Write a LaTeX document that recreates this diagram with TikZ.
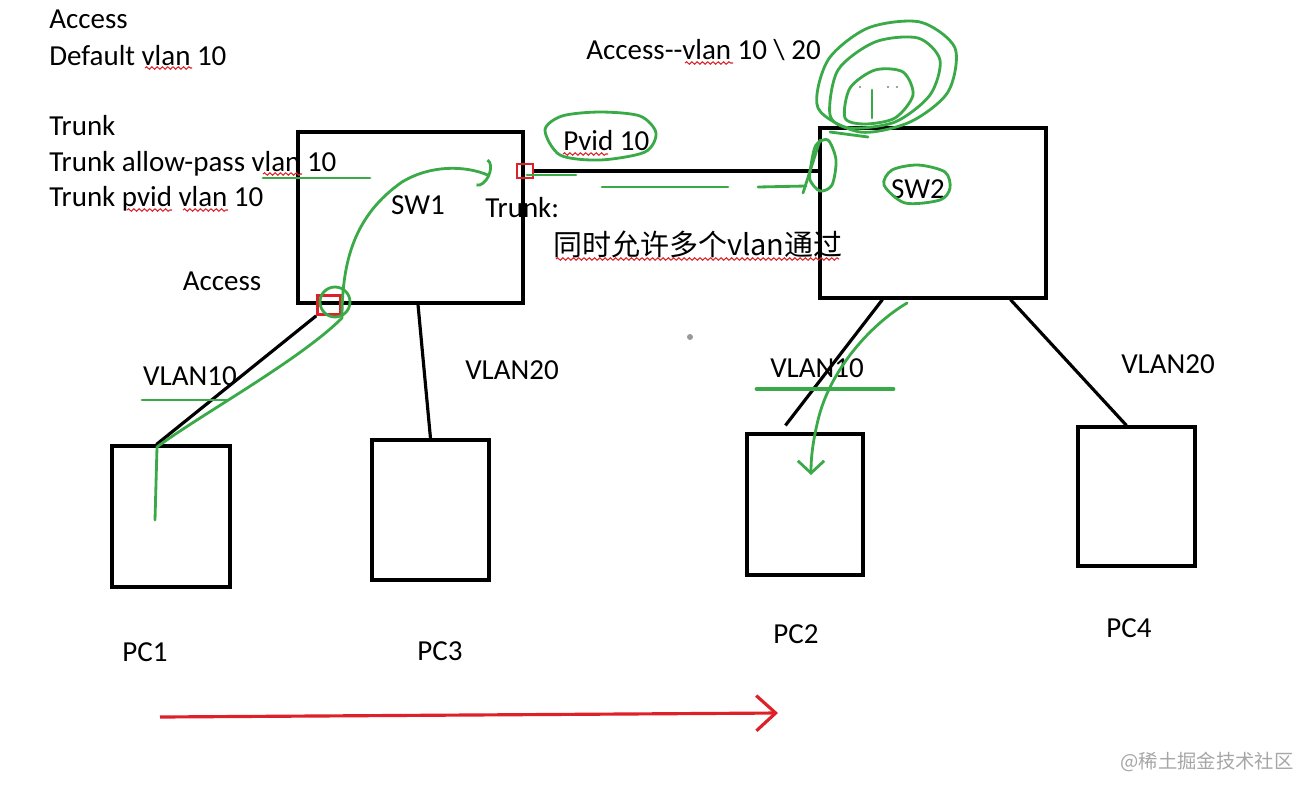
\documentclass[tikz,border=0pt]{standalone}
\usepackage{fontspec}
\setmainfont{Carlito}
\newfontfamily\cjk{Noto Sans CJK SC}
\usetikzlibrary{calc, arrows.meta, decorations.pathmorphing}
\definecolor{pen}{RGB}{58,170,72}
\definecolor{redpen}{RGB}{222,32,40}

\begin{document}
\begin{tikzpicture}[
          x=0.02cm, y=-0.02cm,
          box/.style={rectangle, draw=black, line width=1.8pt, inner sep=0pt},
          link/.style={black, line width=1.8pt},
          lbl/.style={font=\fontsize{16.5}{20}\selectfont, inner sep=0pt, anchor=base},
          note/.style={lbl, anchor=base west},
          port/.style={rectangle, draw=redpen, line width=1.5pt, inner sep=0pt},
          ink/.style={pen, line width=1.6pt, line cap=round, line join=round},
          squig/.style={redpen, line width=0.6pt, decorate,
                        decoration={snake, segment length=3pt, amplitude=0.7pt}}
        ]
          \useasboundingbox (0,0) rectangle (1310,795);

          % switches and hosts
          \node[box, minimum width=4.50cm, minimum height=3.42cm] (sw1) at (410.5,217.5) {};
          \node[box, minimum width=4.52cm, minimum height=3.40cm] (sw2) at (933,213) {};
          \node[box, minimum width=2.36cm, minimum height=2.82cm] (pc1) at (171,516.5) {};
          \node[box, minimum width=2.34cm, minimum height=2.80cm] (pc3) at (430.5,510) {};
          \node[box, minimum width=2.32cm, minimum height=2.82cm] (pc2) at (805,504.5) {};
          \node[box, minimum width=2.34cm, minimum height=2.78cm] (pc4) at (1136.5,496.5) {};

          \node[port, minimum width=0.46cm, minimum height=0.38cm] (p1) at (329,305) {};
          \node[port, minimum width=0.32cm, minimum height=0.28cm] (p2) at (525,171) {};

          \draw[link] (p1.south west) -- ($(pc1.north west)+(46,0)$);
          \draw[link] ($(sw1.south)+(7.5,0)$) -- (pc3.north);
          \draw[link] (p2.east) -- ($(sw2.west)+(0,-42)$);
          \draw[link] ($(sw2.south west)+(64,0)$) -- ($(pc2.north west)+(40,-7)$);
          \draw[link] ($(sw2.south west)+(192,0)$) -- ($(pc4.north west)+(50,0)$);

          % labels
          \node[note] (t1) at (49,28)  {Access};
          \node[note] (t2) at (49,65)  {Default vlan 10};
          \node[note] (t3) at (49,135) {Trunk};
          \node[note] (t4) at (49,171) {Trunk allow-pass vlan 10};
          \node[note] (t5) at (49,206) {Trunk pvid vlan 10};
          \node[note] (acc2) at (586,59) {Access{-}{-}vlan 10 \textbackslash{} 20};
          \node[note] (pvid) at (563,150) {Pvid 10};
          \node[note] (trk) at (485,217) {Trunk:};
          \node[note] (multi) at (553,255) {\cjk 同时允许多个vlan通过};
          \node[lbl] (sw1l) at (418,214) {SW1};
          \node[lbl] (sw2l) at (918,198) {SW2};
          \node[lbl] (acc1) at (222,290) {Access};
          \node[lbl] (v10a) at (190,385) {VLAN10};
          \node[lbl] (v20a) at (512,379) {VLAN20};
          \node[lbl] (v10b) at (817,377) {VLAN10};
          \node[lbl] (v20b) at (1168,373) {VLAN20};
          \node[lbl] (pc1l) at (145,661) {PC1};
          \node[lbl] (pc3l) at (440,660) {PC3};
          \node[lbl] (pc2l) at (796,643) {PC2};
          \node[lbl] (pc4l) at (1129,637) {PC4};

          % spell check marks
          \draw[squig] (145,68) -- (192,68);
          \draw[squig] (263,174) -- (302,174);
          \draw[squig] (127,210) -- (172,210);
          \draw[squig] (183,210) -- (228,210);
          \draw[squig] (685,63) -- (733,63);
          \draw[squig] (563,154) -- (608,154);
          \draw[squig] (556,259) -- (839,259);

          % pen annotations
          \draw[ink, -{Arc Barb[length=5pt, width=17pt]}] (155,520) -- (157,447)
            .. controls (200,415) and (300,360) .. (342,318)
            .. controls (342,260) and (355,215) .. (402,182)
            .. controls (430,165) and (465,165) .. (490,176);
          \draw[ink] (335,302) circle (15);
          \draw[ink] (142,400) -- (227,400);
          \draw[ink] (263,178) -- (370,178);
          \draw[ink] plot[smooth cycle] coordinates {(545,130) (562,116) (600,112) (640,116) (656,133) (645,152) (600,160) (560,155)};
          \draw[ink] (527,175) -- (576,175);
          \draw[ink] (602,187) -- (728,187);
          \draw[ink] (758,187) -- (806,186);
          \draw[ink] (803,193) -- (820,140);
          \draw[ink] plot[smooth cycle] coordinates {(811,165) (816,145) (828,140) (836,160) (832,185) (820,191) (810,180)};
          \draw[ink] plot[smooth cycle] coordinates {(818,108) (828,60) (868,28) (920,22) (955,48) (948,92) (910,122) (860,132)};
          \draw[ink] plot[smooth cycle] coordinates {(830,115) (838,70) (875,42) (918,38) (940,60) (930,95) (895,122) (850,128)};
          \draw[ink] plot[smooth cycle] coordinates {(845,118) (850,88) (875,70) (903,72) (913,95) (895,118) (865,124)};
          \draw[ink] (830,132) -- (868,137);
          \draw[ink] (872,90) -- (872,118);
          \fill[gray] (860,87) circle (1.2) (888,87) circle (1.2) (897,87) circle (1.2);
          \draw[ink] plot[smooth cycle] coordinates {(884,185) (892,170) (918,165) (945,172) (950,188) (940,200) (905,203)};
          \draw[ink, line width=2.8pt] (757,389) -- (893,389);
          \draw[ink, -{Straight Barb[length=7pt, width=15pt]}] (907,303)
            .. controls (870,325) and (830,370) .. (818,420)
            .. controls (812,445) and (811,460) .. (811,475);

          \draw[redpen, line width=1.8pt, -{Straight Barb[length=11pt, width=20pt]}] (160,717) -- (778,713);
          \fill[gray!80] (690,337) circle (3);
          \node[font=\cjk\fontsize{11}{13}\selectfont, text=gray!70, inner sep=0pt] (wm) at (1207,762) {@稀土掘金技术社区};
        \end{tikzpicture}
\end{document}
